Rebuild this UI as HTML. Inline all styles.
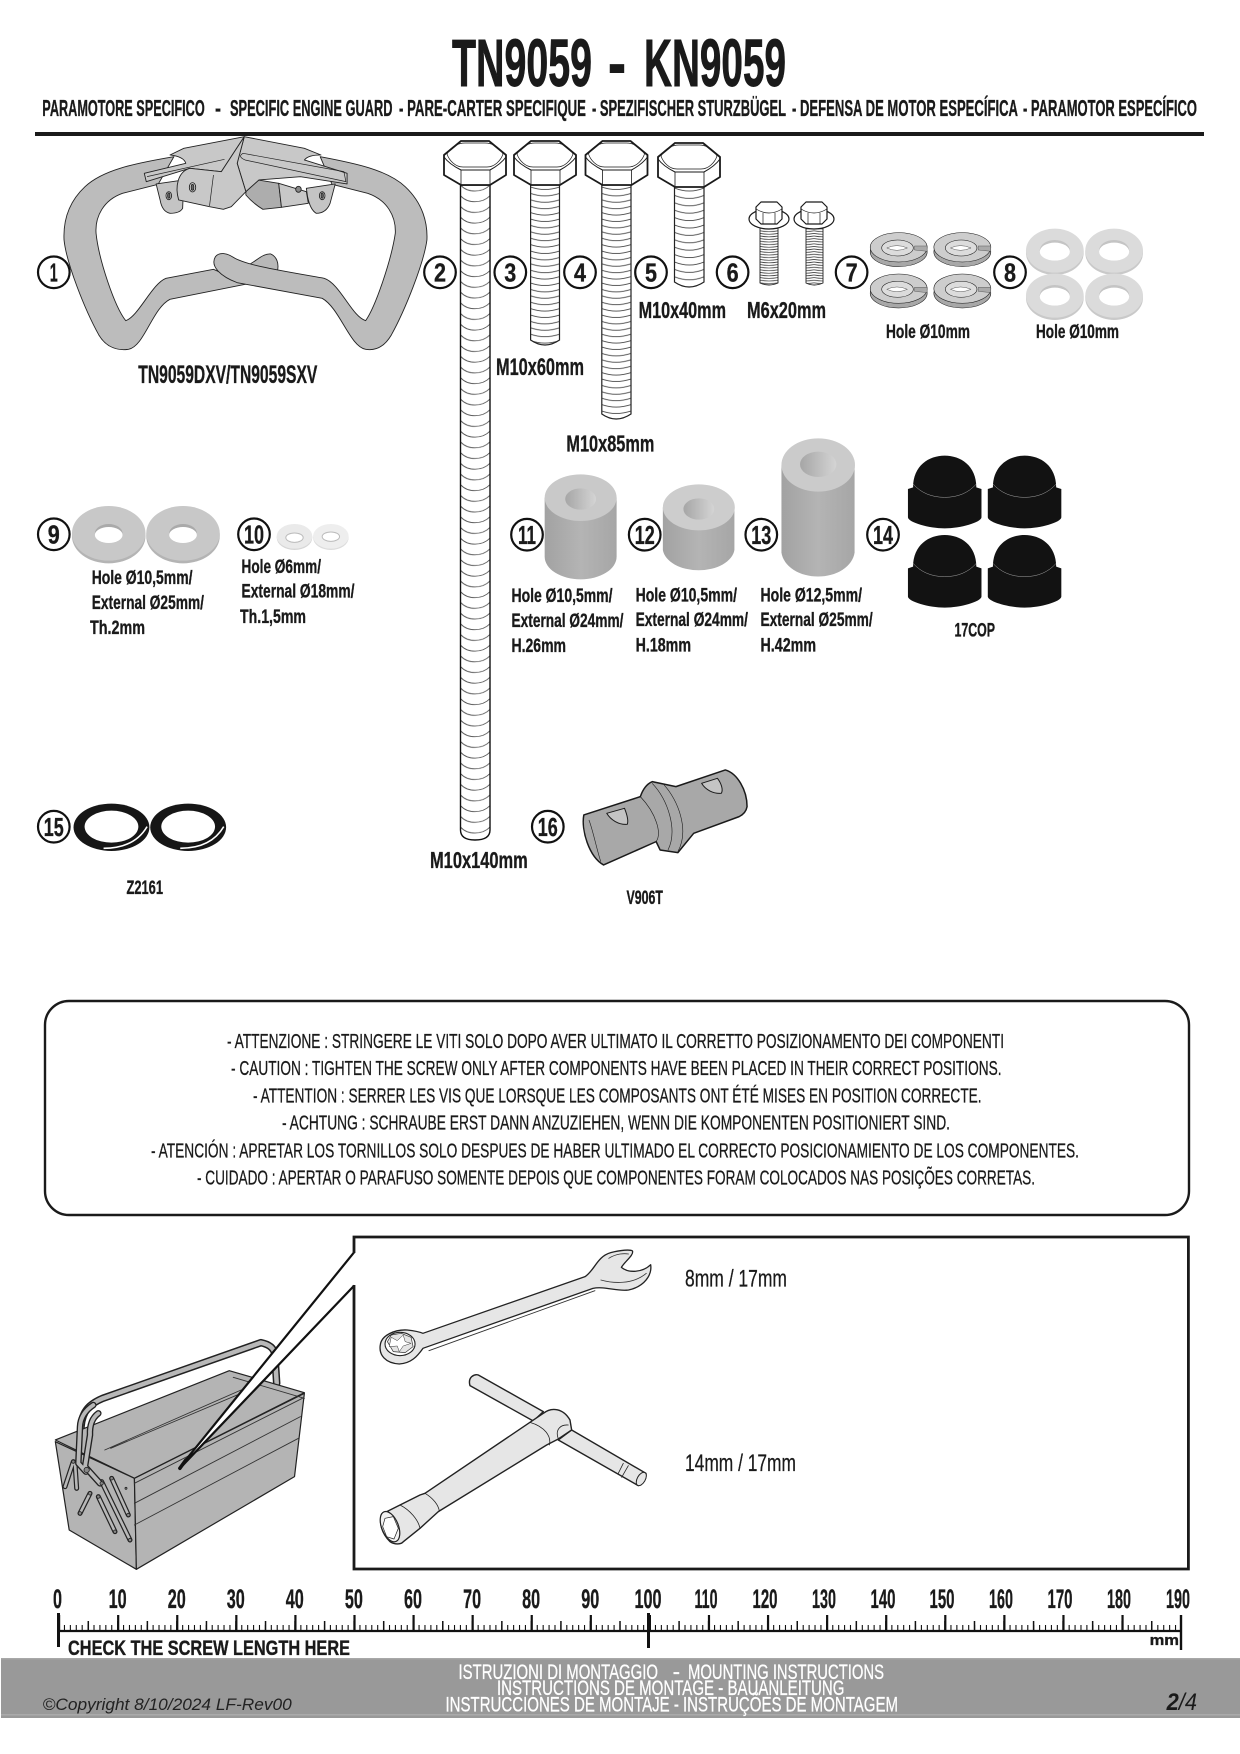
<!DOCTYPE html>
<html><head><meta charset="utf-8"><style>
html,body{margin:0;padding:0;background:#fff}
svg{display:block}
text{font-family:"Liberation Sans Narrow","Liberation Sans",sans-serif;fill:#1a1a1a}
.b{font-weight:bold;stroke:#1a1a1a;stroke-width:.35}
.t{font-weight:bold;stroke:#1a1a1a;stroke-width:.9}
.m{stroke:#1a1a1a;stroke-width:.28}
.w text{fill:#fff;stroke:#fff;stroke-width:.3}
.r{font-family:"Liberation Sans",sans-serif}
.z *{vector-effect:non-scaling-stroke}
</style></head><body>
<svg xmlns="http://www.w3.org/2000/svg" width="1240" height="1754" viewBox="0 0 1240 1754">
<defs>
<pattern id="t2" patternUnits="userSpaceOnUse" x="460.5" y="185" width="29.5" height="10.7"><path d="M0 0C7 8 22 8 29.5 0" fill="none" stroke="#555" stroke-width=".9"/></pattern>
<pattern id="t3" patternUnits="userSpaceOnUse" x="530.6" y="185" width="29" height="6.4"><path d="M0 2Q14 7 29 2" fill="none" stroke="#444" stroke-width=".9"/></pattern>
<pattern id="t4" patternUnits="userSpaceOnUse" x="601.8" y="185" width="29.2" height="6.4"><path d="M0 2Q14 7 29.2 2" fill="none" stroke="#444" stroke-width=".9"/></pattern>
<pattern id="t5" patternUnits="userSpaceOnUse" x="674.5" y="186" width="29.5" height="7.4"><path d="M0 2Q15 8 29.5 2" fill="none" stroke="#444" stroke-width=".9"/></pattern>
<pattern id="t6" patternUnits="userSpaceOnUse" x="760" y="230" width="18" height="2.6"><path d="M0 .8Q9 2.4 18 .8" fill="none" stroke="#333" stroke-width=".7"/></pattern>
<linearGradient id="h" x1="0" x2="1"><stop offset="0" stop-color="#a6a6a6"/><stop offset="1" stop-color="#d4d4d4"/></linearGradient>
<linearGradient id="s" x1="0" x2="1"><stop offset="0" stop-color="#a2a2a2"/><stop offset=".5" stop-color="#b4b4b4"/><stop offset="1" stop-color="#a6a6a6"/></linearGradient>
<g id="head" fill="none" stroke="#1a1a1a" stroke-linejoin="round">
<path d="M-14 1L14 1 31 15V35L15 45H-14L-31 35V15Z" fill="#fff" stroke-width="1.8"/>
<path d="M-31 17Q-26 24-14 30H15Q26 24 31 17" stroke-width="1"/>
<path d="M-28 14C-24 6-16 3-10 3H10C16 3 24 6 28 14 26 20 20 27 12 27H-12C-20 27-26 20-28 14Z" stroke-width=".7"/>
<path d="M-14 30V45M15 30V45" stroke-width=".8"/></g>
<g id="m6" stroke="#1a1a1a" stroke-linejoin="round">
<ellipse cx="0" cy="17" rx="20" ry="10" fill="#fff" stroke-width="1.2"/>
<path d="M-13 5L-8 0H8L13 5V17L8 22H-8L-13 17Z" fill="#fff" stroke-width="1.2"/>
<path d="M-13 7Q0 15 13 7M-6 11V22M6 11V22" fill="none" stroke-width=".7"/></g>
<g id="lock" stroke="#1a1a1a" stroke-width="1.5">
<ellipse cx="0" cy="8" rx="72" ry="44" fill="#a8a8a8"/>
<ellipse cx="0" cy="-6" rx="72" ry="44" fill="#cdcdcd"/>
<ellipse cx="-3" cy="-4" rx="40" ry="24" fill="#dcdcdc"/>
<path d="M-30 -4Q-5 -18 22 -4 -5 10 -30 -4Z" fill="#fff" stroke-width="1"/>
<path d="M40 -10L72 -10V6L40 2Z" fill="#aaa" stroke-width=".8"/></g>
<g id="wash8"><ellipse cx="0" cy="4" rx="73" ry="66" fill="#c9c9c9"/><ellipse cx="0" cy="-3" rx="73" ry="66" fill="#dbdbdb"/><ellipse cx="0" cy="-4" rx="38" ry="31" fill="#c4c4c4"/><ellipse cx="0" cy="0" rx="38" ry="27" fill="#fff"/></g>
<g id="cap"><path d="M-80 95C-80 30-40 0 0 0 40 0 80 30 80 95L93 100V185C92 200 40 218 0 218S-92 200-93 185V100Z" fill="#121212"/><path d="M-80 85Q-50 125 0 125 50 125 80 85" fill="none" stroke="#ddd" stroke-width="1"/></g>
<g id="circ"><circle cx="0" cy="0" r="15.8" fill="#fff" stroke="#111" stroke-width="2.2"/></g>
</defs>

<rect width="1240" height="1754" fill="#fff"/>

<!-- header -->
<g class="t" font-size="67">
<text x="452" y="86" textLength="140" lengthAdjust="spacingAndGlyphs">TN9059</text>
<text x="608" y="86" textLength="18" lengthAdjust="spacingAndGlyphs">-</text>
<text x="644" y="86" textLength="142" lengthAdjust="spacingAndGlyphs">KN9059</text>
</g>
<g class="b" font-size="23">
<text x="42.3" y="116" textLength="162.4" lengthAdjust="spacingAndGlyphs">PARAMOTORE SPECIFICO</text>
<text x="215" y="116" textLength="6" lengthAdjust="spacingAndGlyphs">-</text>
<text x="230" y="116" textLength="162.5" lengthAdjust="spacingAndGlyphs">SPECIFIC ENGINE GUARD</text>
<text x="399" y="116" textLength="187" lengthAdjust="spacingAndGlyphs">- PARE-CARTER SPECIFIQUE</text>
<text x="592" y="116" textLength="194" lengthAdjust="spacingAndGlyphs">- SPEZIFISCHER STURZBÜGEL</text>
<text x="792" y="116" textLength="226" lengthAdjust="spacingAndGlyphs">- DEFENSA DE MOTOR ESPECÍFICA</text>
<text x="1023" y="116" textLength="174" lengthAdjust="spacingAndGlyphs">- PARAMOTOR ESPECÍFICO</text>
</g>
<rect x="35" y="132" width="1169" height="4" fill="#1a1a1a"/>

<!-- guard -->
<g class="z" transform="scale(.3953 .3333)" stroke="#222" stroke-width=".9" stroke-linejoin="round">
<path d="M628 795C650 782 665 760 685 762 700 770 706 790 702 812Z" fill="#b8b8b8"/>
<path d="M440 470C340 490 260 510 215 560 170 610 160 670 162 720 168 790 215 930 250 1005 270 1045 300 1052 325 1048 365 1040 385 925 430 898L625 852 540 808 420 835C385 850 350 950 318 962 290 920 250 780 243 700 240 650 262 600 310 580L400 553Z" fill="#bcbcbc"/>
<path d="M810 470C900 490 980 510 1025 560 1070 610 1082 670 1080 720 1072 790 1025 930 990 1005 970 1045 945 1052 925 1048 885 1040 860 925 815 895L600 848C560 830 530 800 545 770 555 755 575 760 590 772 620 795 700 810 820 835 860 850 890 950 925 962 950 920 990 780 1000 700 1002 650 980 600 930 580L840 553Z" fill="#bcbcbc"/>
<path d="M395 552L465 540 462 625Q455 640 430 640 410 635 405 600Z" fill="#c4c4c4"/>
<path d="M775 565L848 552 835 610Q825 640 800 640 785 630 778 590Z" fill="#c4c4c4"/>
<path d="M622 575L652 540 705 550 712 622 665 628Q640 610 622 585Z" fill="#adadad"/>
<path d="M705 550L775 575 780 610 712 622Z" fill="#c8c8c8"/>
<path d="M430 465L465 445 618 410 560 515 480 505 370 545 365 520 470 490Q465 470 430 465Z" fill="#c8c8c8"/>
<path d="M618 410L770 445 812 465Q780 465 770 480L878 520 878 552 760 530 655 540 622 575 600 490Z" fill="#c8c8c8"/>
<path d="M480 505C450 515 442 560 452 600L530 620 565 628 585 620 622 575 600 490 618 410 560 515Z" fill="#c8c8c8"/>
<path d="M540 525L530 618M615 460L870 515 875 545 620 480Q600 470 615 460ZM372 530L568 478" fill="none" stroke-width=".7"/>
<ellipse cx="487" cy="562" rx="8" ry="14" fill="#eee"/><ellipse cx="487" cy="562" rx="3.5" ry="9" fill="#666"/>
<ellipse cx="427" cy="587" rx="7" ry="12" fill="#eee"/><ellipse cx="427" cy="587" rx="3" ry="8" fill="#666"/>
<ellipse cx="815" cy="587" rx="7" ry="12" fill="#eee"/><ellipse cx="815" cy="587" rx="3" ry="8" fill="#666"/>
<ellipse cx="755" cy="568" rx="7" ry="9" fill="#888"/>
</g>

<!-- bolts -->
<g stroke="none">
<path d="M460.5 185H490V830Q490 840 475 840 460.5 840 460.5 830Z" fill="url(#t2)" stroke="#111" stroke-width="1.4"/>
<path d="M530.6 185H559.5V340Q545 350 530.6 340Z" fill="url(#t3)" stroke="#222" stroke-width="1.2"/>
<path d="M601.8 185H631V414Q616 424 601.8 414Z" fill="url(#t4)" stroke="#222" stroke-width="1.2"/>
<path d="M674.5 186H704V282Q689 292 674.5 282Z" fill="url(#t5)" stroke="#222" stroke-width="1.2"/>
<path d="M760 228H778V283Q769 287 760 283Z" fill="url(#t6)" stroke="#222" stroke-width=".9"/>
<path d="M806 228H823V283Q814 287 806 283Z" fill="url(#t6)" stroke="#222" stroke-width=".9"/>
</g>
<use href="#head" x="475" y="140"/><use href="#head" x="545" y="140"/><use href="#head" x="616.5" y="140"/><use href="#head" x="689" y="142"/>
<use href="#m6" x="769" y="202"/><use href="#m6" x="814" y="202"/>

<!-- washers -->
<g class="z" transform="translate(620 0) scale(.3953 .3333)">
<use href="#lock" x="705" y="748"/><use href="#lock" x="866" y="748"/><use href="#lock" x="705" y="872"/><use href="#lock" x="866" y="872"/>
<use href="#wash8" x="1100" y="755"/><use href="#wash8" x="1250" y="755"/><use href="#wash8" x="1100" y="890"/><use href="#wash8" x="1250" y="890"/>
</g>
<g class="z" transform="translate(0 440) scale(.3953 .3333)">
<ellipse cx="275" cy="288" rx="93" ry="82" fill="#b4b4b4"/><ellipse cx="275" cy="280" rx="93" ry="82" fill="#c8c8c8"/><ellipse cx="275" cy="280" rx="35" ry="28" fill="#aaa"/><ellipse cx="275" cy="285" rx="35" ry="24" fill="#fff"/>
<ellipse cx="463" cy="288" rx="93" ry="82" fill="#b4b4b4"/><ellipse cx="463" cy="280" rx="93" ry="82" fill="#c8c8c8"/><ellipse cx="463" cy="280" rx="35" ry="28" fill="#aaa"/><ellipse cx="463" cy="285" rx="35" ry="24" fill="#fff"/>
<ellipse cx="745" cy="293" rx="45" ry="37" fill="#d6d6d6"/><ellipse cx="745" cy="289" rx="45" ry="37" fill="#eaeaea"/><ellipse cx="745" cy="293" rx="22" ry="14" fill="#fff" stroke="#bbb"/>
<ellipse cx="837" cy="293" rx="45" ry="37" fill="#dcdcdc"/><ellipse cx="837" cy="289" rx="45" ry="37" fill="#eeeeee"/><ellipse cx="837" cy="290" rx="22" ry="14" fill="#fff" stroke="#bbb"/>
<ellipse cx="282" cy="1162" rx="96" ry="71" fill="#161616"/><ellipse cx="282" cy="1160" rx="68" ry="48" fill="#fff"/>
<path d="M262 1225Q340 1225 372 1160" fill="none" stroke="#fff" stroke-width="1.6"/>
<ellipse cx="476" cy="1162" rx="96" ry="71" fill="#161616"/><ellipse cx="476" cy="1160" rx="68" ry="48" fill="#fff"/>
<path d="M456 1225Q534 1225 566 1160" fill="none" stroke="#fff" stroke-width="1.6"/>
</g>

<!-- spacers, caps, part 16 -->
<g class="z" transform="translate(500 420) scale(.3953 .3333)">
<path d="M113 233V410A91 68 0 0 0 295 410V233Z" fill="url(#s)"/><ellipse cx="204" cy="233" rx="91" ry="70" fill="#c9c9c9"/><ellipse cx="204" cy="237" rx="39" ry="32" fill="url(#h)"/>
<path d="M412 262V390A91 68 0 0 0 593 390V262Z" fill="url(#s)"/><ellipse cx="503" cy="262" rx="91" ry="69" fill="#cdcdcd"/><ellipse cx="503" cy="267" rx="39" ry="32" fill="url(#h)"/>
<path d="M712 135V398A93 80 0 0 0 897 398V135Z" fill="url(#s)"/><ellipse cx="805" cy="135" rx="93" ry="80" fill="#cbcbcb"/><ellipse cx="805" cy="133" rx="46" ry="38" fill="url(#h)"/>
<use href="#cap" x="1125" y="107"/><use href="#cap" x="1327" y="107"/><use href="#cap" x="1125" y="345"/><use href="#cap" x="1327" y="345"/>
<g stroke="#1a1a1a" stroke-width="1" fill="none" stroke-linejoin="round">
<path d="M212 1185L355 1130Q365 1095 385 1085L445 1100 570 1050C600 1060 625 1110 625 1160Q622 1180 605 1190L490 1240 450 1298 405 1290 395 1265 262 1335C225 1310 205 1230 212 1185Z" fill="#a8a8a8" stroke-width="1.5"/>
<path d="M225 1200C235 1230 245 1290 255 1325M355 1130C395 1180 410 1240 395 1265M385 1090C425 1140 450 1230 425 1290M415 1095C450 1140 480 1230 450 1295" stroke-width=".6"/>
<path d="M270 1180L315 1165C320 1180 326 1200 322 1213 300 1215 280 1200 270 1180Z" fill="#c4c4c4"/>
<path d="M510 1090L550 1075C560 1090 565 1110 560 1120 540 1122 520 1110 510 1090Z" fill="#c4c4c4"/>
</g>
</g>

<!-- circled numbers -->
<g>
<use href="#circ" x="53.8" y="272.3"/><use href="#circ" x="440" y="272.3"/><use href="#circ" x="510.3" y="272.3"/><use href="#circ" x="580" y="272.3"/><use href="#circ" x="651" y="272.3"/><use href="#circ" x="732.6" y="272.3"/><use href="#circ" x="851.6" y="272.3"/><use href="#circ" x="1010" y="272.3"/>
<use href="#circ" x="53.8" y="534.3"/><use href="#circ" x="254" y="534.3"/><use href="#circ" x="527" y="534.7"/><use href="#circ" x="644.7" y="534.7"/><use href="#circ" x="761.3" y="534.7"/><use href="#circ" x="883" y="534.7"/>
<use href="#circ" x="53.8" y="826.7"/><use href="#circ" x="547.8" y="826.7"/>
</g>
<g class="b" font-size="26" text-anchor="middle">
<text x="53.8" y="281.5" textLength="8" lengthAdjust="spacingAndGlyphs">1</text><text x="440" y="281.5" textLength="12" lengthAdjust="spacingAndGlyphs">2</text><text x="510.3" y="281.5" textLength="12" lengthAdjust="spacingAndGlyphs">3</text><text x="580" y="281.5" textLength="12" lengthAdjust="spacingAndGlyphs">4</text><text x="651" y="281.5" textLength="12" lengthAdjust="spacingAndGlyphs">5</text><text x="732.6" y="281.5" textLength="12" lengthAdjust="spacingAndGlyphs">6</text><text x="851.6" y="281.5" textLength="12" lengthAdjust="spacingAndGlyphs">7</text><text x="1010" y="281.5" textLength="12" lengthAdjust="spacingAndGlyphs">8</text>
<text x="53.8" y="543.5" textLength="12" lengthAdjust="spacingAndGlyphs">9</text><text x="254" y="543.5" textLength="20" lengthAdjust="spacingAndGlyphs">10</text><text x="527" y="543.9" textLength="18" lengthAdjust="spacingAndGlyphs">11</text><text x="644.7" y="543.9" textLength="20" lengthAdjust="spacingAndGlyphs">12</text><text x="761.3" y="543.9" textLength="20" lengthAdjust="spacingAndGlyphs">13</text><text x="883" y="543.9" textLength="20" lengthAdjust="spacingAndGlyphs">14</text>
<text x="53.8" y="835.9" textLength="20" lengthAdjust="spacingAndGlyphs">15</text><text x="547.8" y="835.9" textLength="20" lengthAdjust="spacingAndGlyphs">16</text>
</g>

<!-- part labels -->
<g class="b">
<text x="138.3" y="383" font-size="25" textLength="179" lengthAdjust="spacingAndGlyphs">TN9059DXV/TN9059SXV</text>
<text x="496" y="375" font-size="24" textLength="88" lengthAdjust="spacingAndGlyphs">M10x60mm</text>
<text x="566.4" y="451.7" font-size="23" textLength="88" lengthAdjust="spacingAndGlyphs">M10x85mm</text>
<text x="638.6" y="318" font-size="23" textLength="87.4" lengthAdjust="spacingAndGlyphs">M10x40mm</text>
<text x="747" y="318" font-size="23" textLength="79" lengthAdjust="spacingAndGlyphs">M6x20mm</text>
<text x="430" y="868" font-size="23" textLength="97.7" lengthAdjust="spacingAndGlyphs">M10x140mm</text>
<g font-size="19">
<text x="886" y="338" textLength="84" lengthAdjust="spacingAndGlyphs">Hole Ø10mm</text>
<text x="1036" y="338" textLength="83" lengthAdjust="spacingAndGlyphs">Hole Ø10mm</text>
<text x="91.7" y="584" textLength="100.8" lengthAdjust="spacingAndGlyphs">Hole Ø10,5mm/</text>
<text x="91.7" y="609" textLength="112.3" lengthAdjust="spacingAndGlyphs">External Ø25mm/</text>
<text x="90" y="634" textLength="55" lengthAdjust="spacingAndGlyphs">Th.2mm</text>
<text x="241.5" y="573" textLength="79.5" lengthAdjust="spacingAndGlyphs">Hole Ø6mm/</text>
<text x="241.5" y="597.7" textLength="113" lengthAdjust="spacingAndGlyphs">External Ø18mm/</text>
<text x="240" y="623" textLength="66" lengthAdjust="spacingAndGlyphs">Th.1,5mm</text>
<text x="511.5" y="602" textLength="101" lengthAdjust="spacingAndGlyphs">Hole Ø10,5mm/</text>
<text x="511.5" y="627" textLength="112" lengthAdjust="spacingAndGlyphs">External Ø24mm/</text>
<text x="511.5" y="652" textLength="54.5" lengthAdjust="spacingAndGlyphs">H.26mm</text>
<text x="635.6" y="601.7" textLength="101.4" lengthAdjust="spacingAndGlyphs">Hole Ø10,5mm/</text>
<text x="635.6" y="626" textLength="112.4" lengthAdjust="spacingAndGlyphs">External Ø24mm/</text>
<text x="635.6" y="651.7" textLength="55.4" lengthAdjust="spacingAndGlyphs">H.18mm</text>
<text x="760.5" y="601.7" textLength="101.5" lengthAdjust="spacingAndGlyphs">Hole Ø12,5mm/</text>
<text x="760.5" y="626" textLength="112.2" lengthAdjust="spacingAndGlyphs">External Ø25mm/</text>
<text x="760.5" y="651.7" textLength="55.5" lengthAdjust="spacingAndGlyphs">H.42mm</text>
<text x="954.5" y="636.7" textLength="40.5" lengthAdjust="spacingAndGlyphs">17COP</text>
<text x="126.5" y="894" textLength="36.5" lengthAdjust="spacingAndGlyphs">Z2161</text>
<text x="626.5" y="904" textLength="36.5" lengthAdjust="spacingAndGlyphs">V906T</text>
</g>
</g>

<!-- warning box -->
<rect x="45" y="1001" width="1144" height="214" rx="24" ry="24" fill="#fff" stroke="#1a1a1a" stroke-width="2.4"/>
<g font-size="20.5" class="m">
<text x="227" y="1048" textLength="777" lengthAdjust="spacingAndGlyphs">- ATTENZIONE : STRINGERE LE VITI SOLO DOPO AVER ULTIMATO IL CORRETTO POSIZIONAMENTO DEI COMPONENTI</text>
<text x="231" y="1075" textLength="770.5" lengthAdjust="spacingAndGlyphs">- CAUTION : TIGHTEN THE SCREW ONLY AFTER COMPONENTS HAVE BEEN PLACED IN THEIR CORRECT POSITIONS.</text>
<text x="253" y="1102.3" textLength="728.6" lengthAdjust="spacingAndGlyphs">- ATTENTION : SERRER LES VIS QUE LORSQUE LES COMPOSANTS ONT ÉTÉ MISES EN POSITION CORRECTE.</text>
<text x="282" y="1129.3" textLength="668" lengthAdjust="spacingAndGlyphs">- ACHTUNG : SCHRAUBE ERST DANN ANZUZIEHEN, WENN DIE KOMPONENTEN POSITIONIERT SIND.</text>
<text x="151" y="1157.3" textLength="928" lengthAdjust="spacingAndGlyphs">- ATENCIÓN : APRETAR LOS TORNILLOS SOLO DESPUES DE HABER ULTIMADO EL CORRECTO POSICIONAMIENTO DE LOS COMPONENTES.</text>
<text x="197" y="1184.3" textLength="838" lengthAdjust="spacingAndGlyphs">- CUIDADO : APERTAR O PARAFUSO SOMENTE DEPOIS QUE COMPONENTES FORAM COLOCADOS NAS POSIÇÕES CORRETAS.</text>
</g>

<!-- toolbox -->
<g class="z" transform="translate(0 1220) scale(.3953 .3333)" stroke-linejoin="round" stroke-linecap="round">
<path d="M205 740V620C208 570 230 550 260 535L660 368Q690 375 695 400L700 490" fill="none" stroke="#222" stroke-width="7.5"/>
<path d="M205 740V620C208 570 230 550 260 535L660 368Q690 375 695 400L700 490" fill="none" stroke="#b8b8b8" stroke-width="4.5"/>
<g stroke="#222" stroke-width="1.2" fill="#b4b4b4">
<path d="M140 660L580 452 770 518 340 775Z"/>
<path d="M140 665L340 775 345 1048 175 930Z"/>
<path d="M340 775L770 520 745 770 345 1048Z"/>
</g>
<path d="M265 690L610 510M280 685L620 515M340 790L765 535M340 850L760 590M340 915L755 655M590 472L770 535" fill="none" stroke="#333" stroke-width=".9"/>
</g>
<!-- toolbox latches and handle arms -->
<g class="z" transform="translate(50 1400) scale(.3333)" fill="none" stroke-linecap="round" stroke-linejoin="round">
<g stroke="#222" stroke-width="5"><path d="M70 185L45 260M75 190L80 265M120 280L90 340M185 235L235 345M145 290L195 395M155 245L240 420"/></g>
<g stroke="#b8b8b8" stroke-width="2.6"><path d="M70 185L45 260M75 190L80 265M120 280L90 340M185 235L235 345M145 290L195 395M155 245L240 420"/></g>
<g stroke="#222" stroke-width="6.5"><path d="M130 15Q92 40 90 80L85 190 108 215M145 40Q118 60 120 105L105 200 150 250"/></g>
<g stroke="#b8b8b8" stroke-width="3.8"><path d="M130 15Q92 40 90 80L85 190 108 215M145 40Q118 60 120 105L105 200 150 250"/></g>
<g fill="#888" stroke="#222" stroke-width=".8">
<circle cx="110" cy="210" r="8"/><circle cx="70" cy="185" r="5"/><circle cx="120" cy="280" r="5"/><circle cx="90" cy="340" r="5"/><circle cx="185" cy="235" r="5"/><circle cx="235" cy="345" r="5"/><circle cx="195" cy="395" r="5"/><circle cx="240" cy="420" r="5"/><circle cx="155" cy="250" r="5"/><circle cx="145" cy="290" r="5"/><circle cx="228" cy="265" r="3"/>
</g>
</g>
<g class="z" transform="translate(0 1220) scale(.3953 .3333)" stroke-linecap="round">
<path d="M895 98L455 745 895 198Z" fill="#fff"/>
<path d="M895 98L470 720M895 198L455 745" fill="none" stroke="#111" stroke-width="2.2"/>
<path d="M470 720L455 745" stroke="#111" stroke-width="3.5"/>
</g>

<!-- frame -->
<path d="M354 1253V1237H1188.4V1569H354V1285" fill="none" stroke="#1a1a1a" stroke-width="2.8"/>

<!-- open/ring wrench -->
<g class="z" transform="translate(0 1220) scale(.3953 .3333)" stroke-linejoin="round" stroke-linecap="round">
<path d="M1070 340L1480 170C1505 150 1510 110 1545 98 1570 90 1595 88 1600 93 1604 105 1580 125 1572 142 1590 160 1625 158 1646 134 1650 165 1630 200 1590 210 1560 215 1530 198 1500 205L1070 385C1055 410 1040 430 1010 432 975 430 958 405 962 375 965 345 1000 328 1030 330 1045 332 1060 335 1070 340Z" fill="#e6e6e6" stroke="#222" stroke-width="1.3"/>
<path d="M1085 392L1505 212" fill="none" stroke="#333" stroke-width=".9"/>
<ellipse cx="1012" cy="372" rx="38" ry="35" fill="#fff" stroke="#222" stroke-width="1.1"/>
<path d="M980 365L990 345 1015 340 1040 352 1045 380 1025 398 995 395Z" fill="#e4e4e4" stroke="#333" stroke-width=".7"/>
<path d="M990 352L1005 362 1020 345 1025 365 1040 370 1020 378 1010 395 1005 378 985 380Z" fill="#fff" stroke="#333" stroke-width=".5"/>
<path d="M1540 115C1560 100 1580 100 1590 102M1520 180C1550 190 1600 195 1635 160" fill="none" stroke="#333" stroke-width=".8"/>
</g>
<!-- T wrench -->
<g class="z" transform="translate(370 1365) scale(.3333)" stroke="#222" stroke-linejoin="round" stroke-linecap="round">
<path d="M325 30L520 140 490 168 300 62Q295 45 305 35 315 27 325 30Z" fill="#e6e6e6" stroke-width="1.4"/>
<path d="M605 195L828 325Q830 350 805 362L565 225Z" fill="#e6e6e6" stroke-width="1.4"/>
<path d="M480 172L165 385 150 390 90 420 40 445C25 460 30 500 60 530 75 540 95 538 100 530L150 490 205 440 530 240 565 222 605 195 600 165C580 130 545 125 520 145Z" fill="#e6e6e6" stroke-width="1.4"/>
<g fill="none" stroke-width=".8">
<path d="M480 172C525 185 545 215 538 240M565 222C555 195 570 178 595 180M165 385C190 400 205 420 208 438M90 420C120 435 145 465 150 490M760 295L745 325M775 302L755 337"/>
</g>
<ellipse cx="814" cy="342" rx="12" ry="22" transform="rotate(30 814 342)" fill="#e6e6e6" stroke-width="1"/>
<ellipse cx="60" cy="485" rx="25" ry="48" transform="rotate(-22 60 485)" fill="#f2f2f2" stroke-width="1.2"/>
<path d="M45 460L70 455 85 490 72 522 50 515 38 485Z" fill="#fff" stroke-width=".7"/>
</g>
<text class="m" x="685" y="1286.7" font-size="24" textLength="102" lengthAdjust="spacingAndGlyphs">8mm / 17mm</text>
<text class="m" x="685" y="1471" font-size="24" textLength="111" lengthAdjust="spacingAndGlyphs">14mm / 17mm</text>

<!-- ruler -->
<g stroke="#111" fill="none">
<line x1="58" y1="1631" x2="1181" y2="1631" stroke-width="2.2"/>
<line x1="58" y1="1628" x2="1181" y2="1628" stroke-width="6" stroke-dasharray="1.1 4.81"/>
<line x1="58" y1="1626" x2="1181" y2="1626" stroke-width="10" stroke-dasharray="1.5 28.04"/>
<line x1="58" y1="1623" x2="1181" y2="1623" stroke-width="16" stroke-dasharray="2.2 56.88"/>
<line x1="58.5" y1="1613" x2="58.5" y2="1647" stroke-width="3"/>
<line x1="648.5" y1="1613" x2="648.5" y2="1648" stroke-width="3"/>
<line x1="1181" y1="1615" x2="1181" y2="1650" stroke-width="2.4"/>
</g>
<g class="b" font-size="27" text-anchor="middle">
<text x="57.5" y="1608" textLength="9" lengthAdjust="spacingAndGlyphs">0</text>
<text x="117.6" y="1608" textLength="18" lengthAdjust="spacingAndGlyphs">10</text>
<text x="176.7" y="1608" textLength="18" lengthAdjust="spacingAndGlyphs">20</text>
<text x="235.7" y="1608" textLength="18" lengthAdjust="spacingAndGlyphs">30</text>
<text x="294.8" y="1608" textLength="18" lengthAdjust="spacingAndGlyphs">40</text>
<text x="353.9" y="1608" textLength="18" lengthAdjust="spacingAndGlyphs">50</text>
<text x="413" y="1608" textLength="18" lengthAdjust="spacingAndGlyphs">60</text>
<text x="472.1" y="1608" textLength="18" lengthAdjust="spacingAndGlyphs">70</text>
<text x="531.1" y="1608" textLength="18" lengthAdjust="spacingAndGlyphs">80</text>
<text x="590.2" y="1608" textLength="18" lengthAdjust="spacingAndGlyphs">90</text>
<text x="648" y="1608" textLength="27" lengthAdjust="spacingAndGlyphs">100</text>
<text x="706" y="1608" textLength="23" lengthAdjust="spacingAndGlyphs">110</text>
<text x="765" y="1608" textLength="25" lengthAdjust="spacingAndGlyphs">120</text>
<text x="824" y="1608" textLength="24" lengthAdjust="spacingAndGlyphs">130</text>
<text x="883" y="1608" textLength="25" lengthAdjust="spacingAndGlyphs">140</text>
<text x="942" y="1608" textLength="25" lengthAdjust="spacingAndGlyphs">150</text>
<text x="1001" y="1608" textLength="24" lengthAdjust="spacingAndGlyphs">160</text>
<text x="1060" y="1608" textLength="25" lengthAdjust="spacingAndGlyphs">170</text>
<text x="1119" y="1608" textLength="24" lengthAdjust="spacingAndGlyphs">180</text>
<text x="1178" y="1608" textLength="24" lengthAdjust="spacingAndGlyphs">190</text>
</g>
<text class="b" x="68" y="1655" font-size="21" textLength="282" lengthAdjust="spacingAndGlyphs">CHECK THE SCREW LENGTH HERE</text>
<text class="b" x="1149.6" y="1645" font-size="15" textLength="29.4" lengthAdjust="spacingAndGlyphs">mm</text>

<!-- footer -->
<rect x="1" y="1658" width="1239" height="60" fill="#999"/>
<rect x="1" y="1658" width="1239" height="1.5" fill="#a8a8a8"/>
<rect x="1" y="1714" width="1239" height="1.5" fill="#aaa"/>
<text class="r" x="42.7" y="1710" font-size="17" font-style="italic" textLength="249" lengthAdjust="spacingAndGlyphs" style="fill:#222">©Copyright 8/10/2024 LF-Rev00</text>
<g class="w" font-size="21">
<text x="458.5" y="1679" textLength="199.5" lengthAdjust="spacingAndGlyphs">ISTRUZIONI DI MONTAGGIO</text>
<text x="672.6" y="1679" textLength="7.4" lengthAdjust="spacingAndGlyphs">-</text>
<text x="688" y="1679" textLength="196" lengthAdjust="spacingAndGlyphs">MOUNTING INSTRUCTIONS</text>
<text x="497" y="1695" textLength="347.5" lengthAdjust="spacingAndGlyphs">INSTRUCTIONS DE MONTAGE - BAUANLEITUNG</text>
<text x="445.5" y="1711.7" textLength="452.5" lengthAdjust="spacingAndGlyphs">INSTRUCCIONES DE MONTAJE - INSTRUÇÕES DE MONTAGEM</text>
</g>
<text class="r" x="1166.6" y="1710" font-size="24" font-style="italic" textLength="30.4" lengthAdjust="spacingAndGlyphs"><tspan font-weight="bold">2</tspan>/4</text>
</svg>
</body></html>
